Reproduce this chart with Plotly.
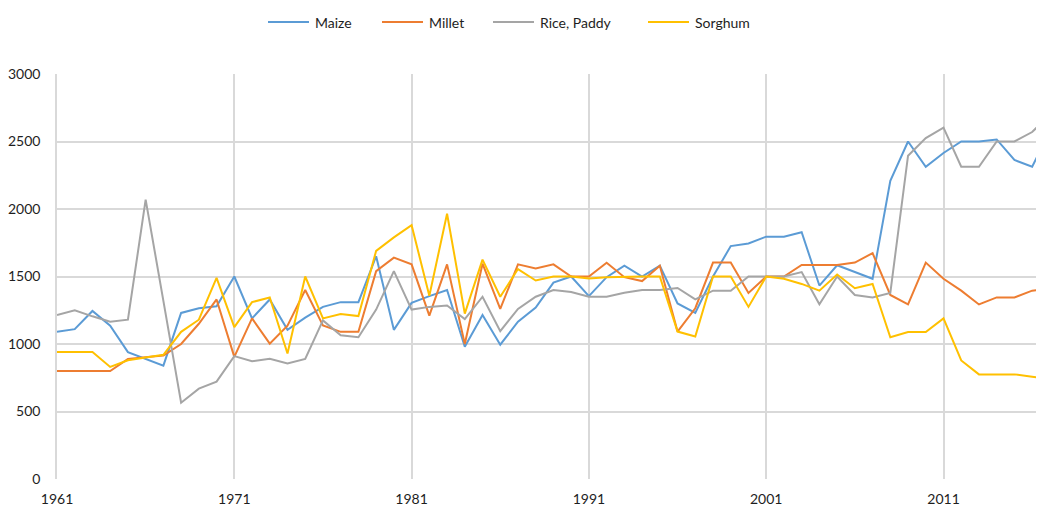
import plotly.graph_objects as go

years = list(range(1961, 2018))

maize = [1090, 1110, 1245, 1135, 940, 890, 840, 1230, 1265, 1280,
         1500, 1190, 1330, 1105, 1195, 1275, 1310, 1310, 1650, 1105,
         1305, 1355, 1400, 980, 1215, 995, 1165, 1270, 1455, 1500,
         1355, 1495, 1580, 1500, 1580, 1300, 1230, 1500, 1725, 1745,
         1795, 1795, 1828, 1433, 1583, 1533, 1483, 2208, 2500, 2313,
         2415, 2500, 2500, 2515, 2363, 2313, 2580]

millet = [800, 800, 800, 800, 890, 900, 915, 1000, 1150, 1330,
          905, 1190, 1003, 1135, 1400, 1138, 1090, 1090, 1540, 1640,
          1590, 1210, 1590, 1000, 1595, 1260, 1590, 1560, 1590, 1500,
          1500, 1602, 1495, 1466, 1580, 1092, 1265, 1603, 1603, 1378,
          1500, 1500, 1585, 1585, 1585, 1603, 1673, 1363, 1293, 1603,
          1483, 1395, 1293, 1345, 1345, 1395, 1410]

rice = [1215, 1249, 1205, 1165, 1180, 2069, 1320, 565, 669, 721,
        910, 873, 890, 855, 890, 1175, 1065, 1050, 1255, 1540,
        1255, 1275, 1285, 1185, 1350, 1095, 1260, 1350, 1400, 1385,
        1350, 1350, 1380, 1400, 1400, 1415, 1330, 1395, 1395, 1500,
        1500, 1500, 1533, 1295, 1500, 1363, 1345, 1378, 2395, 2525,
        2603, 2313, 2313, 2500, 2500, 2570, 2700]

sorghum = [940, 940, 940, 830, 880, 900, 920, 1090, 1180, 1490,
           1125, 1310, 1345, 930, 1500, 1190, 1222, 1207, 1690, 1790,
           1880, 1357, 1965, 1225, 1625, 1350, 1555, 1470, 1500, 1500,
           1485, 1495, 1500, 1500, 1500, 1092, 1055, 1500, 1500, 1275,
           1500, 1483, 1445, 1395, 1515, 1413, 1445, 1050, 1088, 1088,
           1190, 878, 775, 775, 775, 758, 740]

series_names = ["Maize", "Millet", "Rice, Paddy", "Sorghum"]
series_values = [maize, millet, rice, sorghum]
series_colors = ["#5B9BD5", "#ED7D31", "#A5A5A5", "#FFC000"]

x_ticks = [1961, 1971, 1981, 1991, 2001, 2011]
y_ticks = [0, 500, 1000, 1500, 2000, 2500, 3000]

# layout geometry (pixels, figure coordinates)
L, T, B = 49, 66, 38
PX_PER_YEAR = 17.73
FIG_W, FIG_H = 1044, 509
plot_w = FIG_W - L
legend_line_x = [211, 325, 436, 591]   # offsets from plot left edge
legend_line_len = 41
legend_y_px = 52                        # above plot top

fig = go.Figure()
for name, vals, color in zip(series_names, series_values, series_colors):
    fig.add_trace(go.Scatter(
        x=years, y=vals, name=name, mode="lines",
        line=dict(color=color, width=2),
        showlegend=False,
    ))

font_family = "Lato, Open Sans, DejaVu Sans, sans-serif"
text_color = "#1e1e1e"

shapes = []
annotations = []
for name, color, lx in zip(series_names, series_colors, legend_line_x):
    shapes.append(dict(
        type="line", xref="paper", yref="paper",
        xsizemode="pixel", ysizemode="pixel",
        xanchor=0, yanchor=1,
        x0=lx, x1=lx + legend_line_len, y0=legend_y_px, y1=legend_y_px,
        line=dict(color=color, width=2),
    ))
    annotations.append(dict(
        text=name, xref="paper", yref="paper", x=0, y=1,
        xshift=lx + legend_line_len + 4, yshift=legend_y_px,
        xanchor="left", yanchor="middle", showarrow=False,
        font=dict(size=14, color=text_color, family=font_family),
    ))

fig.update_layout(
    width=FIG_W, height=FIG_H,
    margin=dict(l=L, r=0, t=T, b=B, autoexpand=False),
    paper_bgcolor="white",
    plot_bgcolor="white",
    font=dict(family=font_family, size=14, color=text_color),
    showlegend=False,
    shapes=shapes,
    annotations=annotations,
    xaxis=dict(
        range=[1961, 1961 + plot_w / PX_PER_YEAR],
        tickmode="array",
        tickvals=x_ticks,
        ticktext=[str(v) for v in x_ticks],
        showgrid=True,
        gridcolor="#d9d9d9",
        gridwidth=1.5,
        zeroline=False,
        showline=False,
        ticks="",
        ticklabelstandoff=10,
        automargin=False,
        tickfont=dict(size=14, color=text_color),
    ),
    yaxis=dict(
        range=[0, 3000],
        tickmode="array",
        tickvals=y_ticks,
        ticktext=[str(v) for v in y_ticks],
        showgrid=True,
        gridcolor="#d9d9d9",
        gridwidth=1.5,
        zeroline=False,
        showline=True,
        linecolor="#d9d9d9",
        linewidth=1.5,
        ticks="",
        ticklabelstandoff=12,
        automargin=False,
        tickfont=dict(size=14, color=text_color),
    ),
)

fig.write_html("out.html")
